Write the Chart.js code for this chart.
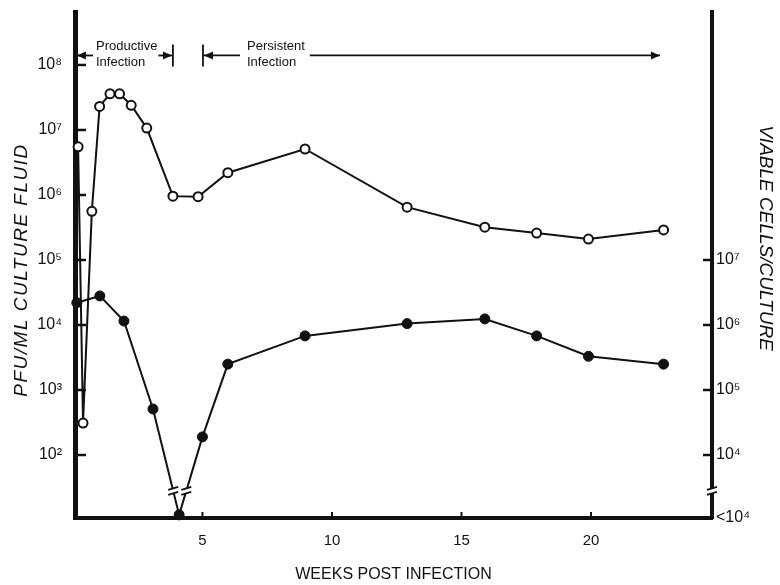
<!DOCTYPE html>
<html lang="en">
<head>
<meta charset="UTF-8">
<title>PFU / viable cells after infection</title>
<script src="https://cdn.jsdelivr.net/npm/chart.js"></script>
<style>
  html, body { margin: 0; padding: 0; background: #fff; }
  #wrap { width: 780px; height: 585px; }
</style>
</head>
<body>
<div id="wrap"><canvas id="chart"></canvas></div>
<script>
// open circles: PFU/ml culture fluid (left axis)
const pfuWeeks  = [0.2, 0.39, 0.73, 1.03, 1.43, 1.8, 2.25, 2.85, 3.86, 4.83, 5.98, 8.96, 12.9, 15.9, 17.9, 19.9, 22.8];
const pfuValues = [5.5e6, 3.1e2, 5.6e5, 2.3e7, 3.6e7, 3.6e7, 2.4e7, 1.07e7, 9.6e5, 9.4e5, 2.2e6, 5.1e6, 6.5e5, 3.2e5, 2.6e5, 2.1e5, 2.9e5];

// filled circles: viable cells/culture (right axis)
const cellWeeks  = [0.15, 1.04, 1.97, 3.09, 4.1, 5.0, 5.98, 8.96, 12.9, 15.9, 17.9, 19.9, 22.8];
const cellValues = [2.2e6, 2.8e6, 1.15e6, 5.1e4, 1.2e3, 1.9e4, 2.5e5, 6.8e5, 1.05e6, 1.24e6, 6.8e5, 3.3e5, 2.5e5];

const weekTicks = [5, 10, 15, 20];
const pfuTicks = [1e2, 1e3, 1e4, 1e5, 1e6, 1e7, 1e8];
const pfuTickLabels = ['10²', '10³', '10⁴', '10⁵', '10⁶', '10⁷', '10⁸'];
const cellTicks = [1e4, 1e5, 1e6, 1e7];
const cellTickLabels = ['10⁴', '10⁵', '10⁶', '10⁷'];
const cellFloorLabel = '<10⁴';
const cellBreakValue = 2800;   // where the axis / line breaks are drawn

// top annotation (weeks)
const productiveSpan = [0, 3.86];
const persistentSpan = [5.02, 22.66];
const productiveTextAt = 0.89;
const persistentTextAt = 6.72;
const arrowLevel = 1.4e8;

const FONT = "'Liberation Sans', Arial, Helvetica, sans-serif";
const INK = '#111';

function arrowHead(ctx, x, y, dir) {
  ctx.beginPath();
  ctx.moveTo(x, y);
  ctx.lineTo(x - dir * 9, y - 4);
  ctx.lineTo(x - dir * 9, y + 4);
  ctx.closePath();
  ctx.fill();
}

function breakMark(ctx, x, y) {
  ctx.save();
  ctx.fillStyle = '#fff';
  ctx.fillRect(x - 6, y - 2, 12, 4);
  ctx.strokeStyle = INK;
  ctx.lineWidth = 1.8;
  for (const dy of [-2.5, 2.5]) {
    ctx.beginPath();
    ctx.moveTo(x - 5, y + dy + 1.5);
    ctx.lineTo(x + 5, y + dy - 1.5);
    ctx.stroke();
  }
  ctx.restore();
}

// keep the plot box where the reference has it
function noPad(s) {
  s.paddingTop = 0; s.paddingBottom = 0; s.paddingLeft = 0; s.paddingRight = 0;
}

const decor = {
  id: 'decor',
  afterDatasetsDraw(chart) {
    const ctx = chart.ctx;
    const area = chart.chartArea;
    const xs = chart.scales.x, ys = chart.scales.y, y2 = chart.scales.y2;
    ctx.save();
    ctx.strokeStyle = INK;
    ctx.fillStyle = INK;

    // inward tick marks
    ctx.lineWidth = 2.5;
    pfuTicks.forEach(v => {
      const p = ys.getPixelForValue(v);
      ctx.beginPath(); ctx.moveTo(area.left, p); ctx.lineTo(area.left + 11, p); ctx.stroke();
    });
    cellTicks.forEach(v => {
      const p = y2.getPixelForValue(v);
      ctx.beginPath(); ctx.moveTo(area.right, p); ctx.lineTo(area.right - 9, p); ctx.stroke();
    });
    ctx.lineWidth = 2;
    weekTicks.forEach(v => {
      const p = xs.getPixelForValue(v);
      ctx.beginPath(); ctx.moveTo(p, area.bottom); ctx.lineTo(p, area.bottom - 6); ctx.stroke();
    });

    // breaks on the viable-cell line around the floor point, and on the right axis
    const by = y2.getPixelForValue(cellBreakValue);
    const pts = chart.getDatasetMeta(1).data;
    const fi = cellValues.indexOf(Math.min(...cellValues));
    [fi - 1, fi + 1].forEach(k => {
      const a = pts[k], b = pts[fi];
      const t = (by - a.y) / (b.y - a.y);
      breakMark(ctx, a.x + t * (b.x - a.x), by);
    });
    breakMark(ctx, area.right, by);

    // phase annotation
    const ay = ys.getPixelForValue(arrowLevel);
    ctx.font = '13px ' + FONT;
    ctx.textAlign = 'left';
    ctx.textBaseline = 'middle';
    ctx.lineWidth = 1.8;

    const pL = xs.getPixelForValue(productiveSpan[0]) + 4;
    const pR = xs.getPixelForValue(productiveSpan[1]);
    const pT = xs.getPixelForValue(productiveTextAt);
    const pW = ctx.measureText('Productive').width;
    ctx.fillText('Productive', pT, ay - 9);
    ctx.fillText('Infection', pT, ay + 7);
    ctx.beginPath(); ctx.moveTo(pL, ay); ctx.lineTo(pT - 3, ay); ctx.stroke();
    arrowHead(ctx, pL, ay, -1);
    ctx.beginPath(); ctx.moveTo(pT + pW + 1, ay); ctx.lineTo(pR, ay); ctx.stroke();
    arrowHead(ctx, pR - 1, ay, 1);
    ctx.beginPath(); ctx.moveTo(pR, ay - 11); ctx.lineTo(pR, ay + 11); ctx.stroke();

    const sL = xs.getPixelForValue(persistentSpan[0]);
    const sR = xs.getPixelForValue(persistentSpan[1]);
    const sT = xs.getPixelForValue(persistentTextAt);
    const sW = ctx.measureText('Persistent').width;
    ctx.fillText('Persistent', sT, ay - 9);
    ctx.fillText('Infection', sT, ay + 7);
    ctx.beginPath(); ctx.moveTo(sL, ay - 11); ctx.lineTo(sL, ay + 11); ctx.stroke();
    ctx.beginPath(); ctx.moveTo(sL, ay); ctx.lineTo(sT - 7, ay); ctx.stroke();
    arrowHead(ctx, sL + 1, ay, -1);
    ctx.beginPath(); ctx.moveTo(sT + sW + 5, ay); ctx.lineTo(sR, ay); ctx.stroke();
    arrowHead(ctx, sR, ay, 1);

    // axis titles
    const midY = (area.top + area.bottom) / 2;
    ctx.textAlign = 'center';
    ctx.font = 'italic 19px ' + FONT;
    ctx.save();
    ctx.translate(22, midY + 5);
    ctx.rotate(-Math.PI / 2);
    ctx.letterSpacing = '1.5px';
    ctx.fillText('PFU/ML CULTURE FLUID', 0, 0);
    ctx.restore();
    ctx.save();
    ctx.translate(chart.width - 15, midY - 27);
    ctx.rotate(Math.PI / 2);
    ctx.fillText('VIABLE CELLS/CULTURE', 0, 0);
    ctx.restore();
    ctx.font = '16px ' + FONT;
    ctx.fillText('WEEKS POST INFECTION', (area.left + area.right) / 2, chart.height - 10);
    ctx.restore();
  }
};

new Chart(document.getElementById('chart'), {
  type: 'line',
  data: {
    datasets: [
      {
        label: 'PFU/ml culture fluid',
        data: pfuWeeks.map((w, i) => ({ x: w, y: pfuValues[i] })),
        yAxisID: 'y',
        borderColor: INK,
        borderWidth: 2,
        pointRadius: 4.5,
        pointBorderWidth: 2,
        pointBackgroundColor: '#fff',
        pointBorderColor: INK,
        clip: false
      },
      {
        label: 'Viable cells/culture',
        data: cellWeeks.map((w, i) => ({ x: w, y: cellValues[i] })),
        yAxisID: 'y2',
        borderColor: INK,
        borderWidth: 2,
        pointRadius: 5,
        pointBorderWidth: 1,
        pointBackgroundColor: INK,
        pointBorderColor: INK,
        clip: false
      }
    ]
  },
  options: {
    responsive: true,
    maintainAspectRatio: false,
    animation: false,
    devicePixelRatio: 1,
    layout: { padding: { top: 12, left: 0, right: 0, bottom: 0 } },
    plugins: { legend: { display: false }, tooltip: { enabled: false } },
    scales: {
      x: {
        type: 'linear',
        position: 'bottom',
        min: 0.08,
        max: 24.67,
        afterBuildTicks: s => { s.ticks = weekTicks.map(v => ({ value: v })); },
        afterFit: s => { s.height = 67; noPad(s); },
        grid: { display: false, drawTicks: false },
        border: { color: INK, width: 4 },
        ticks: { color: INK, padding: 14, font: { family: FONT, size: 15 } }
      },
      y: {
        type: 'logarithmic',
        position: 'left',
        min: 10.74,
        max: 6.53e8,
        afterBuildTicks: s => { s.ticks = pfuTicks.map(v => ({ value: v })); },
        afterFit: s => { s.width = 75; noPad(s); },
        grid: { display: false, drawTicks: false },
        border: { color: INK, width: 5 },
        ticks: {
          color: INK, padding: 13, font: { family: FONT, size: 16 },
          callback: (v, i) => pfuTickLabels[i]
        }
      },
      y2: {
        type: 'logarithmic',
        position: 'right',
        min: 1074,
        max: 6.53e10,
        afterBuildTicks: s => {
          s.ticks = [{ value: s.min }].concat(cellTicks.map(v => ({ value: v })));
        },
        afterFit: s => { s.width = 68; noPad(s); },
        grid: { display: false, drawTicks: false },
        border: { color: INK, width: 4 },
        ticks: {
          color: INK, padding: 4, font: { family: FONT, size: 16 },
          callback: (v, i) => (i === 0 ? cellFloorLabel : cellTickLabels[i - 1])
        }
      }
    }
  },
  plugins: [decor]
});
</script>
</body>
</html>
